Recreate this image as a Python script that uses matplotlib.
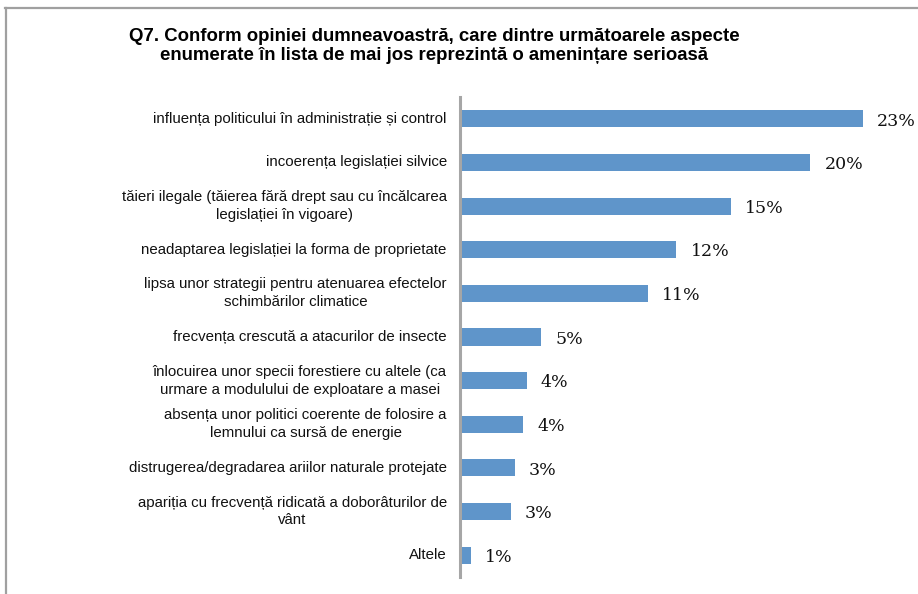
import matplotlib
matplotlib.use('Agg')
import matplotlib.pyplot as plt
from matplotlib.lines import Line2D

# survey answers, top to bottom
categories = [
    'influența politicului în administrație și control',
    'incoerența legislației silvice',
    'tăieri ilegale (tăierea fără drept sau cu încălcarea\nlegislației în vigoare)',
    'neadaptarea legislației la forma de proprietate',
    'lipsa unor strategii pentru atenuarea efectelor\nschimbărilor climatice',
    'frecvența crescută a atacurilor de insecte',
    'înlocuirea unor specii forestiere cu altele (ca\nurmare a modulului de exploatare a masei',
    'absența unor politici coerente de folosire a\nlemnului ca sursă de energie',
    'distrugerea/degradarea ariilor naturale protejate',
    'apariția cu frecvență ridicată a doborâturilor de\nvânt',
    'Altele',
]
shares = [22.9, 19.9, 15.4, 12.3, 10.7, 4.6, 3.8, 3.6, 3.1, 2.9, 0.6]

title = ('Q7. Conform opiniei dumneavoastră, care dintre următoarele aspecte\n'
         'enumerate în lista de mai jos reprezintă o amenințare serioasă')

W, H = 918, 594
fig = plt.figure(figsize=(W / 100, H / 100), dpi=100)
ax = fig.add_axes([460 / W, 17 / H, 458 / W, 480 / H])

pos = list(range(len(categories)))
ax.barh(pos, shares, height=0.39, color='#5F95CA')
ax.set_ylim(len(categories) - 0.5, -0.5)
ax.set_xlim(0, 458 / 17.6)

for y, (cat, v) in enumerate(zip(categories, shares)):
    ax.text(-0.75, y, cat, ha='right', va='center', multialignment='center',
            fontsize=10.8, family='Liberation Sans', color='#111111',
            linespacing=1.35)
    ax.text(v + 0.8, y + 0.05, f'{v:.0f}%', ha='left', va='center',
            fontsize=12.5, family='DejaVu Serif', color='#111111')

for side in ['top', 'right', 'bottom']:
    ax.spines[side].set_visible(False)
ax.spines['left'].set_color('#A6A6A6')
ax.spines['left'].set_linewidth(2.2)
ax.set_xticks([])
ax.set_yticks([])

fig.text(434 / W, 1 - 46 / H, title, ha='center', va='center',
         fontsize=13.4, fontweight='bold', family='Liberation Sans',
         linespacing=1.2)

# outer frame (top and left edges only)
fig.add_artist(Line2D([5 / W, 1], [1 - 8 / H, 1 - 8 / H], color='#A0A0A0', lw=1.6))
fig.add_artist(Line2D([6 / W, 6 / W], [0, 1 - 8 / H], color='#A0A0A0', lw=1.6))

fig.savefig('out.png', dpi=100)
